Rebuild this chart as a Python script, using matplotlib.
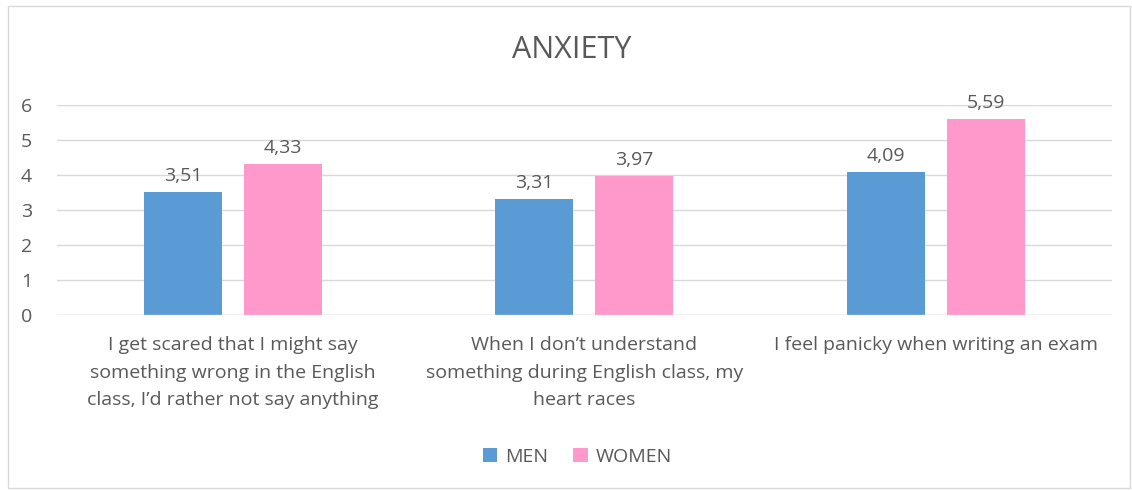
import numpy as np
import matplotlib.pyplot as plt
from matplotlib.patches import Rectangle

plt.rcParams['font.family'] = ['Open Sans', 'DejaVu Sans']

# data
categories = [
    "I get scared that I might say\nsomething wrong in the English\nclass, I\u2019d rather not say anything",
    "When I don\u2019t understand\nsomething during English class, my\nheart races",
    "I feel panicky when writing an exam",
]
men = [3.51, 3.31, 4.09]
women = [4.33, 3.97, 5.59]
series_names = ["MEN", "WOMEN"]
colors = ["#5b9bd5", "#ff99cc"]
txt = "#595959"

fig = plt.figure(figsize=[11.32, 4.91], dpi=100)
fig.patches.append(Rectangle((0.007, 0.006), 0.991, 0.982, transform=fig.transFigure,
                             fill=False, edgecolor="#d9d9d9", lw=1))
ax = fig.add_axes([0.0504, 0.358, 0.9316, 0.428])

x = np.arange(len(categories))
w = 0.222
off = 0.142
b1 = ax.bar(x - off, men, w, color=colors[0], label=series_names[0])
b2 = ax.bar(x + off, women, w, color=colors[1], label=series_names[1])

for bars, vals in [(b1, men), (b2, women)]:
    for r, v in zip(bars, vals):
        ax.text(r.get_x() + r.get_width() / 2, v + 0.2, f"{v:.2f}".replace(".", ","),
                ha="center", va="bottom", fontsize=14, color=txt)

ax.set_xlim(-0.5, 2.5)
ax.set_ylim(0, 6)
ax.set_yticks(range(0, 7))
ax.yaxis.grid(True, color="#d9d9d9", lw=1)
ax.set_axisbelow(True)
for s in ax.spines.values():
    s.set_visible(False)
ax.tick_params(axis="y", length=0, labelsize=14, labelcolor=txt, pad=18)
ax.tick_params(axis="x", length=0, labelsize=14, labelcolor=txt, pad=15)
ax.set_xticks(x)
ax.set_xticklabels(categories, linespacing=1.68)
ax.axhline(0, color="#d9d9d9", lw=1)

fig.text(0.505, 0.898, "ANXIETY", ha="center", va="center", fontsize=22, color=txt)
fig.legend(loc="center", bbox_to_anchor=(0.51, 0.07), ncol=2, frameon=False,
           fontsize=14, labelcolor=txt, handlelength=0.75, handleheight=0.75,
           handletextpad=0.4, columnspacing=1.3)

fig.savefig("out.png", dpi=100)
